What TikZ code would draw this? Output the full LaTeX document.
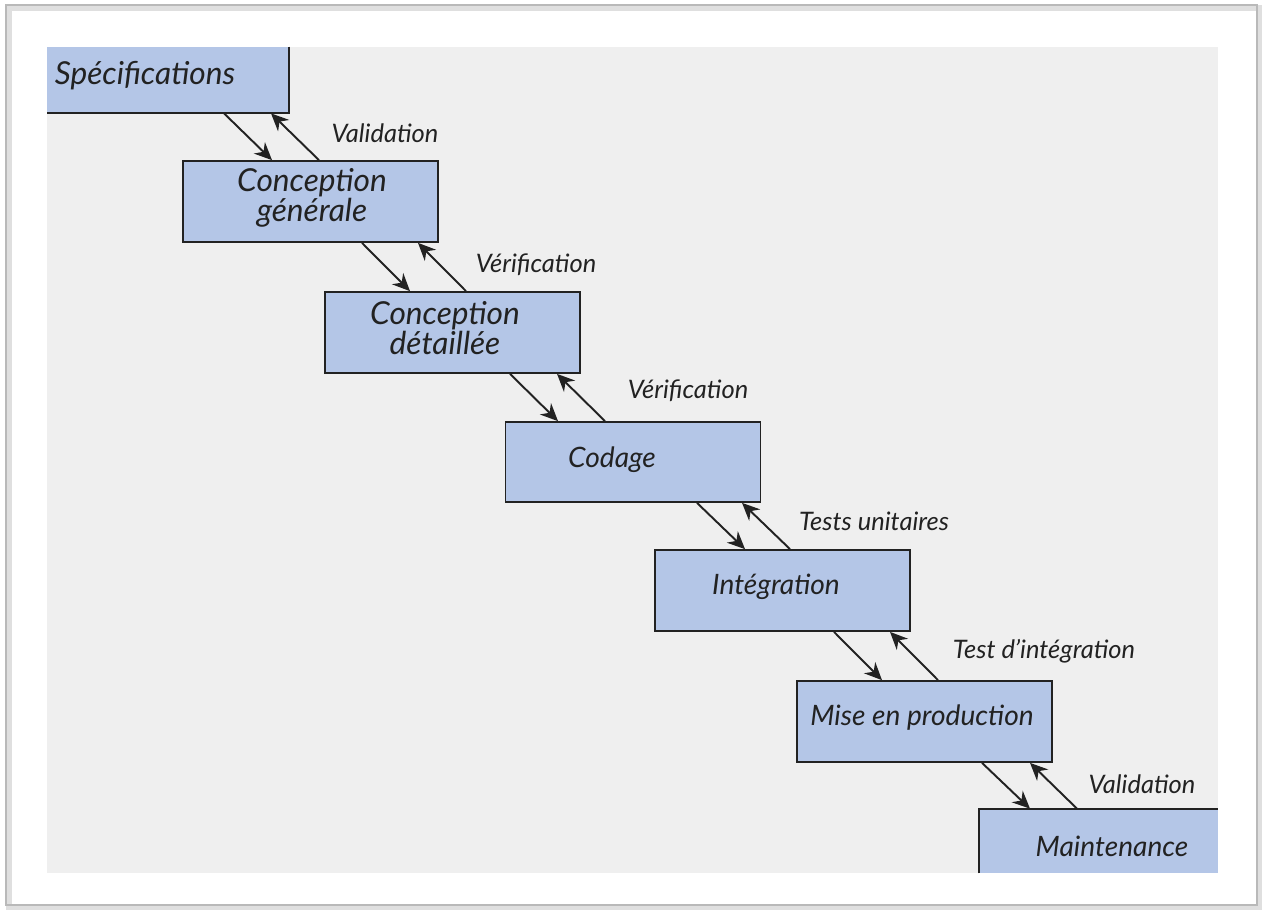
\documentclass[tikz,border=0pt]{standalone}
\usepackage{fontspec}
\setmainfont{Lato}
\usetikzlibrary{arrows.meta,calc}
\definecolor{boxblue}{HTML}{B4C6E7}
\definecolor{panel}{HTML}{EFEFEF}
\definecolor{ink}{HTML}{222222}
\tikzset{
  stagebox/.style={draw=ink, line width=1pt, fill=boxblue, minimum width=5.1cm, minimum height=1.62cm, inner sep=0pt},
  clipbox/.style={fill=boxblue, inner sep=0pt},
  stagetext/.style={font=\itshape\fontsize{16}{14}\selectfont, text=ink, align=center, inner sep=0pt},
  bigtext/.style={font=\itshape\fontsize{18}{13.5}\selectfont, text=ink, align=center, inner sep=0pt},
  lbl/.style={font=\itshape\fontsize{14.5}{15}\selectfont, text=ink, inner sep=0pt},
  arr/.style={draw=ink, line width=1.1pt, -{Stealth[length=10pt,width=9pt]}},
  edge/.style={draw=ink, line width=1pt}
}
\begin{document}
\begin{tikzpicture}[x=0.02cm,y=-0.02cm]
\useasboundingbox (0,0) rectangle (1263,910);
\fill[white] (0,0) rectangle (1263,910);
% card frame with shadow
\draw[gray!25, line width=3pt] (9,8) rectangle (1259,907);
\draw[gray!55, line width=1pt] (6,5) rectangle (1257,905);
% panel
\fill[panel] (47,47) rectangle (1218,873);
% boxes
\node[clipbox, minimum width=4.84cm, minimum height=1.32cm] (spec) at (168,80) {};
\draw[edge] (spec.north east) -- (spec.south east) -- (spec.south west);
\node[stagetext, font=\itshape\fontsize{18}{14}\selectfont] (spect) at (145,76) {Spécifications};

\node[stagebox] (cg) at (310.5,201.5) {};
\node[bigtext] (cgt) at (312,198) {Conception\\générale};

\node[stagebox] (cd) at (452.5,332.5) {};
\node[bigtext] (cdt) at (445,328) {Conception\\détaillée};

\node[stagebox, minimum height=1.6cm] (cod) at (633,462) {};
\node[stagetext] (codt) at (612,460) {Codage};

\node[stagebox] (integ) at (782.5,590.5) {};
\node[stagetext] (integt) at (776,587) {Intégration};

\node[stagebox] (mep) at (924.5,721.5) {};
\node[stagetext] (mept) at (922,718) {Mise en production};

\node[clipbox, minimum width=4.78cm, minimum height=1.28cm] (maint) at (1098.5,841) {};
\draw[edge] (maint.south west) -- (maint.north west) -- (maint.north east);
\node[stagetext] (maintt) at (1112,846) {Maintenance};

% arrows
\draw[arr] (224,0 |- spec.south) -- (272,0 |- cg.north);
\draw[arr] (319,0 |- cg.north) -- (271,0 |- spec.south);
\draw[arr] (362,0 |- cg.south) -- (410,0 |- cd.north);
\draw[arr] (466,0 |- cd.north) -- (418,0 |- cg.south);
\draw[arr] (510,0 |- cd.south) -- (558,0 |- cod.north);
\draw[arr] (605,0 |- cod.north) -- (557,0 |- cd.south);
\draw[arr] (697,0 |- cod.south) -- (745,0 |- integ.north);
\draw[arr] (790,0 |- integ.north) -- (742,0 |- cod.south);
\draw[arr] (834,0 |- integ.south) -- (882,0 |- mep.north);
\draw[arr] (938,0 |- mep.north) -- (890,0 |- integ.south);
\draw[arr] (982,0 |- mep.south) -- (1030,0 |- maint.north);
\draw[arr] (1077,0 |- maint.north) -- (1030,0 |- mep.south);

% labels
\node[lbl] (l1) at (385,133) {Validation};
\node[lbl] (l2) at (536,265) {Vérification};
\node[lbl] (l3) at (688,391) {Vérification};
\node[lbl] (l4) at (874,521) {Tests unitaires};
\node[lbl] (l5) at (1044,651) {Test d'intégration};
\node[lbl] (l6) at (1142,784) {Validation};
\end{tikzpicture}
\end{document}
